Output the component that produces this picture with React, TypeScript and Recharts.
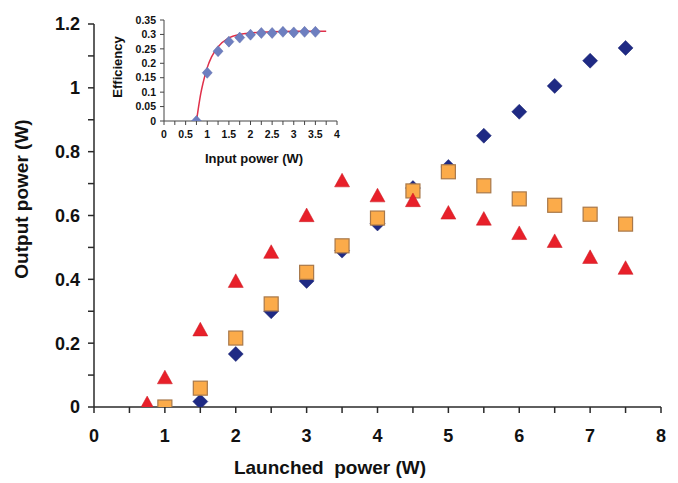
import React from 'react';
import { ScatterChart, ComposedChart, Scatter, Line, XAxis, YAxis, Label } from 'recharts';

// Main chart data (Launched power W -> Output power W)
const diamondX = [1.5, 2, 2.5, 3, 3.5, 4, 4.5, 5, 5.5, 6, 6.5, 7, 7.5];
const diamondY = [0.017, 0.166, 0.3, 0.395, 0.49, 0.575, 0.686, 0.752, 0.85, 0.925, 1.006, 1.085, 1.125];
const squareX = [1, 1.5, 2, 2.5, 3, 3.5, 4, 4.5, 5, 5.5, 6, 6.5, 7, 7.5];
const squareY = [0.0, 0.059, 0.216, 0.323, 0.422, 0.505, 0.592, 0.677, 0.737, 0.693, 0.652, 0.632, 0.604, 0.573];
const triangleX = [0.75, 1, 1.5, 2, 2.5, 3, 3.5, 4, 4.5, 5, 5.5, 6, 6.5, 7, 7.5];
const triangleY = [0.013, 0.094, 0.244, 0.396, 0.487, 0.602, 0.711, 0.664, 0.649, 0.61, 0.591, 0.546, 0.521, 0.471, 0.437];

const mainXTicks = [0, 0.5, 1, 1.5, 2, 2.5, 3, 3.5, 4, 4.5, 5, 5.5, 6, 6.5, 7, 7.5, 8];
const mainYTicks = [0, 0.1, 0.2, 0.3, 0.4, 0.5, 0.6, 0.7, 0.8, 0.9, 1.0, 1.1, 1.2];

// Inset data (Input power W -> Efficiency)
const effX = [0.75, 1, 1.25, 1.5, 1.75, 2, 2.25, 2.5, 2.75, 3, 3.25, 3.5];
const effY = [0, 0.167, 0.242, 0.275, 0.289, 0.299, 0.305, 0.305, 0.309, 0.307, 0.309, 0.309];
const fitX = [0.75, 0.8, 0.85, 0.9, 1.0, 1.1, 1.25, 1.5, 1.75, 2, 2.5, 3, 3.75];
const fitY = [0, 0.05, 0.095, 0.13, 0.185, 0.222, 0.257, 0.288, 0.3, 0.305, 0.309, 0.311, 0.311];

const insetXTicks = [0, 0.25, 0.5, 0.75, 1, 1.25, 1.5, 1.75, 2, 2.25, 2.5, 2.75, 3, 3.25, 3.5, 3.75, 4];
const insetYTicks = [0, 0.05, 0.1, 0.15, 0.2, 0.25, 0.3, 0.35];

const zip = (xs: number[], ys: number[]) => xs.map((x, i) => ({ x, y: ys[i] }));
const diamonds = zip(diamondX, diamondY);
const squares = zip(squareX, squareY);
const triangles = zip(triangleX, triangleY);
const effPts = zip(effX, effY);
const fitPts = zip(fitX, fitY);

const FONT = '"Liberation Sans", Arial, sans-serif';

const DiamondShape = (props: any) => {
  const { cx, cy } = props;
  const w = 7.5, h = 7.5;
  return <polygon points={`${cx},${cy - h} ${cx + w},${cy} ${cx},${cy + h} ${cx - w},${cy}`} fill="#1f2a84" stroke="#1a2470" strokeWidth={0.5} />;
};
const SquareShape = (props: any) => {
  const { cx, cy } = props;
  const s = 7;
  return <rect x={cx - s} y={cy - s} width={2 * s} height={2 * s} fill="#fbab4a" stroke="#a8784a" strokeWidth={1.2} />;
};
const TriangleShape = (props: any) => {
  const { cx, cy } = props;
  const w = 7.5, h = 6.8;
  return <polygon points={`${cx},${cy - h} ${cx + w},${cy + h} ${cx - w},${cy + h}`} fill="#e8202a" stroke="#c81820" strokeWidth={0.5} />;
};
const SmallDiamond = (props: any) => {
  const { cx, cy } = props;
  const w = 5, h = 5.5;
  return <polygon points={`${cx},${cy - h} ${cx + w},${cy} ${cx},${cy + h} ${cx - w},${cy}`} fill="#6e7fc0" stroke="#5a68a8" strokeWidth={0.5} />;
};

const fmtMainX = (v: number) => (Number.isInteger(v) ? String(v) : '');
const fmtMainY = (v: number) => (Math.round(v * 10) % 2 === 0 ? String(Math.round(v * 10) / 10) : '');
const fmtInsetX = (v: number) => (Math.round(v * 100) % 50 === 0 ? String(v) : '');

export default function App() {
  return (
    <div style={{ position: 'absolute', left: 0, top: 0, width: 678, height: 483, background: '#fff' }}>
      <div style={{ position: 'absolute', left: 0, top: 0 }}>
        <ScatterChart width={678} height={483} margin={{ top: 24, right: 17, bottom: 46, left: 0 }}>
          <XAxis
            type="number"
            dataKey="x"
            height={30}
            domain={[0, 8]}
            ticks={mainXTicks}
            tickFormatter={fmtMainX}
            interval={0}
            tickSize={6}
            tickMargin={16}
            stroke="#2a2a2a"
            strokeWidth={1.5}
            tick={{ fill: '#111', fontSize: 18, fontWeight: 'bold', fontFamily: FONT }}
            allowDataOverflow
          >
            <Label
              content={() => (
                <text x={330} y={474} textAnchor="middle" fontSize={19} fontWeight="bold" fontFamily={FONT} fill="#111" style={{ whiteSpace: 'pre' }}>
                  {'Launched\u00a0 power (W)'}
                </text>
              )}
            />
          </XAxis>
          <YAxis
            type="number"
            dataKey="y"
            width={94}
            domain={[0, 1.2]}
            ticks={mainYTicks}
            tickFormatter={fmtMainY}
            interval={0}
            tickSize={6}
            tickMargin={8}
            stroke="#2a2a2a"
            strokeWidth={1.5}
            tick={{ fill: '#111', fontSize: 18, fontWeight: 'bold', fontFamily: FONT }}
            allowDataOverflow
          >
            <Label
              content={() => (
                <text x={28} y={199} transform="rotate(-90 28 199)" textAnchor="middle" fontSize={19} fontWeight="bold" fontFamily={FONT} fill="#111">
                  Output power (W)
                </text>
              )}
            />
          </YAxis>
          <Scatter data={diamonds} shape={DiamondShape} isAnimationActive={false} />
          <Scatter data={squares} shape={SquareShape} isAnimationActive={false} />
          <Scatter data={triangles} shape={TriangleShape} isAnimationActive={false} />
        </ScatterChart>
      </div>
      <div style={{ position: 'absolute', left: 100, top: 5 }}>
        <ComposedChart width={250} height={170} margin={{ top: 15, right: 13, bottom: 24, left: 0 }}>
          <XAxis
            type="number"
            dataKey="x"
            height={30}
            domain={[0, 4]}
            ticks={insetXTicks}
            tickFormatter={fmtInsetX}
            interval={0}
            tickSize={4}
            tickMargin={6}
            stroke="#444"
            strokeWidth={1}
            tick={{ fill: '#111', fontSize: 10.5, fontWeight: 'bold', fontFamily: FONT }}
            allowDataOverflow
          >
            <Label
              content={() => (
                <text x={154} y={158} textAnchor="middle" fontSize={13} fontWeight="bold" fontFamily={FONT} fill="#111">
                  Input power (W)
                </text>
              )}
            />
          </XAxis>
          <YAxis
            type="number"
            dataKey="y"
            width={64}
            domain={[0, 0.35]}
            ticks={insetYTicks}
            interval={0}
            tickSize={4}
            tickMargin={4}
            stroke="#444"
            strokeWidth={1}
            tick={{ fill: '#111', fontSize: 10.5, fontWeight: 'bold', fontFamily: FONT }}
            allowDataOverflow
          >
            <Label
              content={() => (
                <text x={22} y={62} transform="rotate(-90 22 62)" textAnchor="middle" fontSize={13} fontWeight="bold" fontFamily={FONT} fill="#111">
                  Efficiency
                </text>
              )}
            />
          </YAxis>
          <Scatter data={effPts} shape={SmallDiamond} isAnimationActive={false} />
          <Line data={fitPts} dataKey="y" type="monotone" stroke="#e0304a" strokeWidth={1.5} dot={false} isAnimationActive={false} />
        </ComposedChart>
      </div>
    </div>
  );
}
